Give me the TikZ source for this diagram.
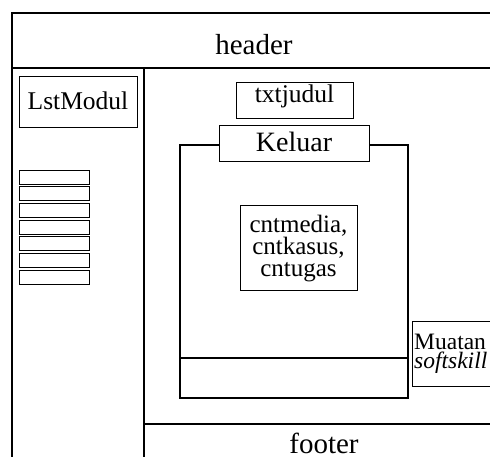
\documentclass[tikz,border=0pt]{standalone}
\usepackage{fontspec}
\setmainfont{Liberation Serif}

\tikzset{
	frameline/.style={line width=1.3pt},
	boxline/.style={line width=0.9pt},
	bigtext/.style={font=\fontsize{29}{29}\selectfont, anchor=base, inner sep=0pt},
	smalltext/.style={font=\fontsize{25.5}{22}\selectfont, inner sep=0pt, align=center}
}

\begin{document}
\begin{tikzpicture}[x=1pt,y=-1pt]
	\def \colx {144}
	\def \heady {68}
	\def \footy {424}

	\useasboundingbox (0,0) rectangle (490,457);
	\clip (0,0) rectangle (490,457);

	% header, kolom kiri, footer
	\draw[frameline] (12,470) -- (12,13) -- (520,13);
	\draw[frameline] (12,\heady) -- (520,\heady);
	\draw[frameline] (\colx,\heady) -- (\colx,470);
	\draw[frameline] (\colx,\footy) -- (520,\footy);
	\node[bigtext] (header) at (254,55) {header};
	\node[bigtext] (footer) at (324,453) {footer};

	% kolom kiri
	\draw[boxline] (19,76) rectangle (137,127);
	\node[smalltext, anchor=base] (lstmodul) at (78,110) {LstModul};
	\foreach \i in {0,...,6} {
		\draw[boxline] (19,170+\i*16.7) rectangle (89,184+\i*16.7);
	}

	% isi
	\draw[boxline] (236,82) rectangle (353,118);
	\node[smalltext, anchor=base] (judul) at (294.5,103) {txtjudul};

	\draw[frameline] (180,145) rectangle (408,398);
	\draw[frameline] (180,358) -- (408,358);
	\draw[boxline, fill=white] (219,125) rectangle (369,161);
	\node[bigtext, font=\fontsize{28}{28}\selectfont] (keluar) at (294,152) {Keluar};

	\draw[boxline] (240,205) rectangle (357,290);
	\node[smalltext, font=\fontsize{25}{22}\selectfont] (konten) at (298.5,249) {cntmedia,\\cntkasus,\\cntugas};

	\draw[boxline] (412,321) rectangle (520,386);
	\node[smalltext, align=left, anchor=west, font=\fontsize{23.5}{19}\selectfont] (muatan) at (414,354) {Muatan\\\textit{softskill}};
\end{tikzpicture}
\end{document}
